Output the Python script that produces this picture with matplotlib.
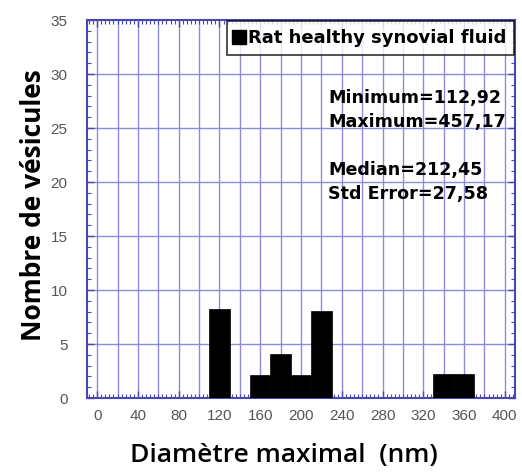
import matplotlib
matplotlib.use("Agg")
import matplotlib.pyplot as plt
from matplotlib.ticker import MultipleLocator
from matplotlib.lines import Line2D

bin_left = [110, 150, 170, 190, 210, 330, 350]
counts = [8.2, 2.1, 4.1, 2.1, 8.1, 2.2, 2.2]
bin_width = 20
x_ticks = [0, 40, 80, 120, 160, 200, 240, 280, 320, 360, 400]
y_ticks = [0, 5, 10, 15, 20, 25, 30, 35]
legend_label = "Rat healthy synovial fluid"
stats_lines = ["Minimum=112,92", "Maximum=457,17", "", "Median=212,45", "Std Error=27,58"]

blue = "#4848b0"
grid_col = "#8c8cdc"
arial = ["Liberation Sans", "DejaVu Sans"]
wide = ["DejaVu Sans"]
opens = ["Open Sans", "DejaVu Sans"]

fig = plt.figure(figsize=(5.22, 4.76), dpi=100)
ax = fig.add_axes([87/522, 1-398/476, (515-87)/522, (398-20)/476])

ax.bar(bin_left, counts, width=bin_width, align="edge", color="black", edgecolor="black", linewidth=0.5, zorder=3)

ax.set_xlim(-10, 410)
ax.set_ylim(0, 35)
ax.set_xticks(x_ticks)
ax.set_yticks(y_ticks)
ax.xaxis.set_minor_locator(MultipleLocator(4))
ax.yaxis.set_minor_locator(MultipleLocator(1))

for gx in range(0, 410, 20):
    ax.axvline(gx, color=grid_col, lw=1.0, zorder=1)
for gy in y_ticks[1:-1]:
    ax.axhline(gy, color=grid_col, lw=1.0, zorder=1)

for s in ax.spines.values():
    s.set_color(blue)
    s.set_linewidth(1.5)

ax.tick_params(axis="both", which="both", direction="in", colors=blue,
               top=True, right=True, labelcolor="#555555")
ax.tick_params(axis="both", which="major", length=5, width=1, labelsize=11)
ax.tick_params(axis="both", which="minor", length=3, width=0.8)
ax.tick_params(axis="y", pad=14)
ax.tick_params(axis="x", pad=8)
for lab in ax.get_xticklabels() + ax.get_yticklabels():
    lab.set_family(arial)

ax.set_ylabel("Nombre de vésicules", fontsize=19, fontweight="bold", family=opens)
ax.yaxis.set_label_coords(-0.093, 0.511)
ax.set_xlabel("Diamètre maximal  (nm)", fontsize=19, fontweight="semibold", family=opens)
ax.xaxis.set_label_coords(0.459, -0.119)

handle = Line2D([], [], marker="s", color="black", linestyle="none", markersize=10)
leg = ax.legend([handle], [legend_label], loc="upper right", frameon=True, fancybox=False,
                prop={"weight": "bold", "size": 13, "family": wide}, handlelength=0.5,
                handletextpad=0.2, borderpad=0.45, borderaxespad=0.05)
leg.get_frame().set_edgecolor("black")
leg.get_frame().set_linewidth(1.2)
leg.set_zorder(5)

ax.text(0.563, 0.817, "\n".join(stats_lines), transform=ax.transAxes,
        fontsize=12.6, fontweight="bold", family=wide, va="top", ha="left",
        linespacing=1.42, zorder=4)

fig.savefig("out.png", dpi=100)
